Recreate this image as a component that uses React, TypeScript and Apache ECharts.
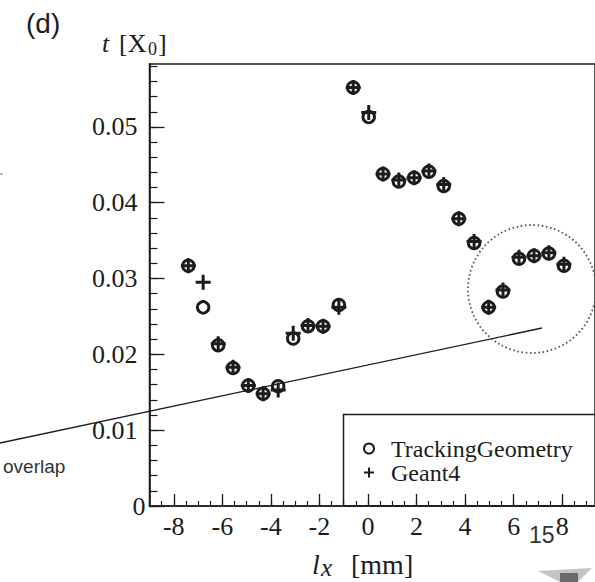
import { useEffect, useRef } from "react";
import * as echarts from "echarts";

// Positions l_x [mm] of the measurement points
const lxValues = [
  -7.4, -6.79, -6.17, -5.56, -4.93, -4.32, -3.7, -3.08, -2.47, -1.85, -1.2, -0.61, 0.03,
  0.62, 1.27, 1.9, 2.51, 3.12, 3.74, 4.37, 4.97, 5.56, 6.22, 6.84, 7.45, 8.07,
];
// t [X0] — TrackingGeometry (open circles)
const trackingGeometry = [
  0.0317, 0.0262, 0.0212, 0.0182, 0.0159, 0.0148, 0.0158, 0.0221, 0.0237, 0.0237, 0.0265,
  0.0552, 0.0513, 0.0438, 0.0428, 0.0433, 0.0441, 0.0422, 0.0379, 0.0347, 0.0262, 0.0283,
  0.0326, 0.033, 0.0333, 0.0317,
];
// t [X0] — Geant4 (crosses)
const geant4 = [
  0.0317, 0.0295, 0.0214, 0.0183, 0.0159, 0.0148, 0.0153, 0.0228, 0.0238, 0.0237, 0.0262,
  0.0552, 0.0519, 0.0438, 0.043, 0.0433, 0.0442, 0.0424, 0.0379, 0.0349, 0.0262, 0.0285,
  0.0328, 0.033, 0.0334, 0.0319,
];

const xTickLabels = [-8, -6, -4, -2, 0, 2, 4, 6, 8];
const yTickLabels = [0, 0.01, 0.02, 0.03, 0.04, 0.05];
const xMinorTicks = [
  -9, -8.5, -8, -7.5, -7, -6.5, -6, -5.5, -5, -4.5, -4, -3.5, -3, -2.5, -2, -1.5, -1, -0.5, 0,
  0.5, 1, 1.5, 2, 2.5, 3, 3.5, 4, 4.5, 5, 5.5, 6, 6.5, 7, 7.5, 8, 8.5, 9,
];
const yMinorTicks = [
  0, 0.002, 0.004, 0.006, 0.008, 0.01, 0.012, 0.014, 0.016, 0.018, 0.02, 0.022, 0.024, 0.026,
  0.028, 0.03, 0.032, 0.034, 0.036, 0.038, 0.04, 0.042, 0.044, 0.046, 0.048, 0.05, 0.052, 0.054,
  0.056, 0.058,
];

const seriesNames = ["TrackingGeometry", "Geant4"];

export default function App() {
  const ref = useRef<HTMLDivElement>(null);

  useEffect(() => {
    if (!ref.current) return;
    const chart = echarts.init(ref.current, null, { renderer: "svg" });
    const serif = "Liberation Serif";
    const sans = "Liberation Sans";
    const ink = "#1c1c1c";
    const plusPath = "path://M-1,-0.2H-0.2V-1H0.2V-0.2H1V0.2H0.2V1H-0.2V0.2H-1Z";
    const xMin = -9;
    const xMax = 9.35;
    const yMin = 0;
    const yMax = 0.0583;

    const txt = (
      text: string,
      x: number,
      y: number,
      fontFamily: string,
      fontSize: number,
      fontStyle = "normal",
      fill = ink
    ) => ({
      type: "text",
      x,
      y,
      silent: true,
      style: {
        text,
        fontFamily,
        fontSize,
        fontStyle,
        fill,
        align: "left",
        verticalAlign: "middle",
        textAlign: "left",
        textVerticalAlign: "middle",
      },
    });

    chart.setOption({
      animation: false,
      backgroundColor: "#ffffff",
      grid: {
        left: 149.5,
        top: 64,
        width: 446,
        height: 442,
        show: true,
        borderColor: ink,
        borderWidth: 1.5,
        backgroundColor: "transparent",
      },
      xAxis: [
        {
          type: "value",
          min: xMin,
          max: xMax,
          position: "bottom",
          axisLine: { show: true, onZero: false, lineStyle: { color: ink, width: 1.6 } },
          axisTick: {
            show: true,
            inside: true,
            length: 12,
            customValues: xTickLabels,
            lineStyle: { color: ink, width: 1.3 },
          },
          axisLabel: {
            customValues: xTickLabels,
            formatter: (v: number) => String(v),
            fontFamily: serif,
            fontSize: 26,
            color: ink,
            margin: 7,
          },
          splitLine: { show: false },
        },
        {
          type: "value",
          min: xMin,
          max: xMax,
          position: "bottom",
          axisLine: { show: false, onZero: false },
          axisTick: {
            show: true,
            inside: true,
            length: 5,
            customValues: xMinorTicks,
            lineStyle: { color: ink, width: 1.2 },
          },
          axisLabel: { show: false },
          splitLine: { show: false },
        },
      ],
      yAxis: [
        {
          type: "value",
          min: yMin,
          max: yMax,
          position: "left",
          axisLine: { show: true, onZero: false, lineStyle: { color: ink, width: 1.6 } },
          axisTick: {
            show: true,
            inside: true,
            length: 15,
            customValues: yTickLabels,
            lineStyle: { color: ink, width: 1.3 },
          },
          axisLabel: {
            customValues: yTickLabels,
            formatter: (v: number) => (v === 0 ? "{z|0}" : `{n|${v}}`),
            fontFamily: serif,
            fontSize: 26,
            color: ink,
            margin: 4,
            rich: {
              z: { fontFamily: serif, fontSize: 26, color: ink },
              n: { fontFamily: serif, fontSize: 26, color: ink, padding: [0, 8, 0, 0] },
            },
          },
          splitLine: { show: false },
        },
        {
          type: "value",
          min: yMin,
          max: yMax,
          position: "left",
          axisLine: { show: false, onZero: false },
          axisTick: {
            show: true,
            inside: true,
            length: 8,
            customValues: yMinorTicks,
            lineStyle: { color: ink, width: 1.2 },
          },
          axisLabel: { show: false },
          splitLine: { show: false },
        },
      ],
      legend: {
        orient: "vertical",
        left: 358,
        top: 431.5,
        itemWidth: 10,
        itemHeight: 10,
        itemGap: 0,
        selectedMode: false,
        textStyle: {
          fontFamily: serif,
          fontSize: 24,
          color: ink,
          lineHeight: 21,
          padding: [0, 0, 0, 12],
        },
        data: [
          {
            name: seriesNames[0],
            icon: "circle",
            itemStyle: { color: "rgba(0,0,0,0)", borderColor: ink, borderWidth: 2 },
          },
          {
            name: seriesNames[1],
            icon: plusPath,
            itemStyle: { color: ink, borderWidth: 0 },
          },
        ],
      },
      series: [
        {
          name: seriesNames[0],
          type: "scatter",
          xAxisIndex: 0,
          yAxisIndex: 0,
          symbol: "circle",
          symbolSize: 11.5,
          itemStyle: { color: "rgba(0,0,0,0)", borderColor: ink, borderWidth: 2.9, opacity: 1 },
          data: lxValues.map((x, i) => [x, trackingGeometry[i]]),
          z: 3,
        },
        {
          name: seriesNames[1],
          type: "scatter",
          xAxisIndex: 0,
          yAxisIndex: 0,
          symbol: plusPath,
          symbolSize: 15,
          itemStyle: { color: ink, borderWidth: 0, opacity: 1 },
          data: lxValues.map((x, i) => [x, geant4[i]]),
          z: 4,
        },
      ],
      graphic: [
        {
          type: "rect",
          silent: true,
          shape: { x: 343.5, y: 414.5, width: 260, height: 91.5 },
          style: { fill: "none", stroke: ink, lineWidth: 1.5 },
          z: 1,
        },
        {
          type: "line",
          silent: true,
          shape: { x1: 0, y1: 443, x2: 542, y2: 328 },
          style: { stroke: ink, lineWidth: 1.3 },
          z: 2,
        },
        {
          type: "circle",
          silent: true,
          shape: { cx: 532, cy: 289, r: 64 },
          style: { fill: "none", stroke: "#555", lineWidth: 1.8, lineDash: [1.6, 2.6] },
          z: 2,
        },
        {
          type: "line",
          silent: true,
          shape: { x1: 0, y1: 174, x2: 3, y2: 174 },
          style: { stroke: "#777", lineWidth: 1 },
        },
        txt("(d)", 26, 23, sans, 28),
        txt("t", 102, 43.5, serif, 26, "italic"),
        txt("[X", 119, 43.5, serif, 26),
        txt("0", 148, 49, serif, 18),
        txt("]", 158, 43.5, serif, 26),
        txt("l", 312, 564, serif, 28, "italic"),
        txt("x", 321, 567, serif, 25, "italic"),
        txt("[mm]", 351, 564, serif, 28),
        txt("overlap", 3, 466.5, sans, 19, "normal", "#333"),
        txt("15", 529, 535, sans, 23, "normal", "#333"),
        {
          type: "polygon",
          silent: true,
          shape: {
            points: [
              [538, 571],
              [592, 568],
              [584, 576],
              [578, 582],
              [560, 582],
            ],
          },
          style: { fill: "#c4c4c4" },
        },
        {
          type: "rect",
          silent: true,
          shape: { x: 560, y: 573, width: 18, height: 9 },
          style: { fill: "#6a6a6a" },
        },
      ],
    });

    return () => {
      chart.dispose();
    };
  }, []);

  return (
    <div
      ref={ref}
      style={{ position: "absolute", left: 0, top: 0, width: 595, height: 582, background: "#fff" }}
    />
  );
}
